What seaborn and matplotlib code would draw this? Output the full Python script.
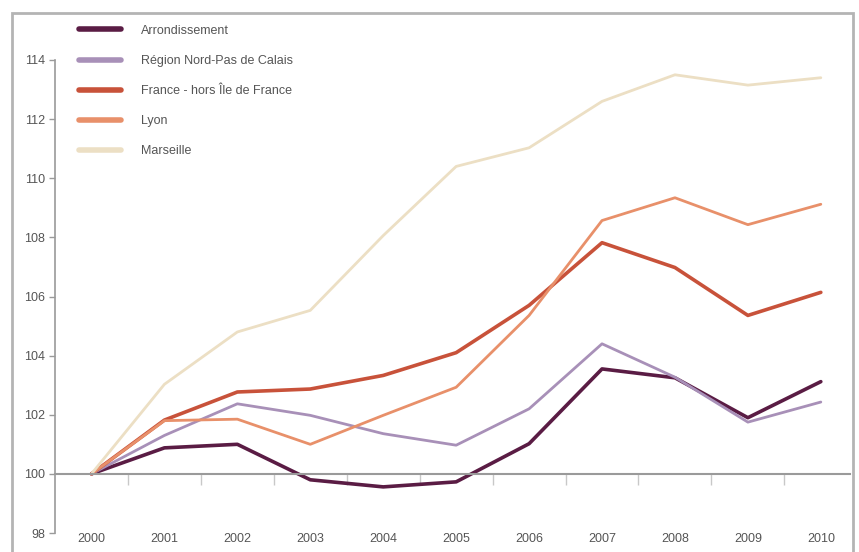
import matplotlib
matplotlib.use("Agg")
import matplotlib.pyplot as plt
from matplotlib.patches import Rectangle
from matplotlib.lines import Line2D
import numpy as np
import pandas as pd
import seaborn as sns

years = [2000, 2001, 2002, 2003, 2004, 2005, 2006, 2007, 2008, 2009, 2010]

arrondissement = [100.0, 100.88, 101.0, 99.8, 99.56, 99.73, 101.02, 103.55, 103.25, 101.9, 103.12]
region_npdc = [100.0, 101.3, 102.37, 101.98, 101.36, 100.97, 102.2, 104.4, 103.27, 101.75, 102.43]
france_hors_idf = [100.0, 101.82, 102.77, 102.87, 103.33, 104.1, 105.7, 107.82, 106.98, 105.36, 106.14]
lyon = [100.0, 101.8, 101.85, 101.0, 101.98, 102.93, 105.36, 108.57, 109.34, 108.43, 109.12]
marseille = [100.0, 103.03, 104.8, 105.53, 108.06, 110.4, 111.03, 112.6, 113.5, 113.15, 113.4]

series_names = [
    "Arrondissement",
    "Région Nord-Pas de Calais",
    "France - hors Île de France",
    "Lyon",
    "Marseille",
]
series_values = [arrondissement, region_npdc, france_hors_idf, lyon, marseille]
colors = ["#5a1c44", "#a890b8", "#c8523a", "#e8906a", "#ecdfc4"]
widths = [2.6, 2.0, 2.6, 2.0, 2.0]

y_ticks = [98, 100, 102, 104, 106, 108, 110, 112, 114]

df = pd.DataFrame(
    [(n, y, v) for n, vals in zip(series_names, series_values) for y, v in zip(years, vals)],
    columns=["series", "year", "value"],
)

sns.set_style("white")
plt.rcParams["font.family"] = ["Liberation Sans", "DejaVu Sans"]

W, H = 859, 552
fig = plt.figure(figsize=(W / 100, H / 100), dpi=100)
ax = fig.add_axes([55 / W, (H - 533) / H, (850 - 55) / W, (533 - 60) / H])

for name, col, lw in zip(series_names, colors, widths):
    sns.lineplot(
        data=df[df["series"] == name], x="year", y="value",
        color=col, linewidth=lw, ax=ax, legend=False,
    )

ax.set_xlim(1999.5, 2010.4)
ax.set_ylim(98, 114)
ax.set_xlabel("")
ax.set_ylabel("")

axis_grey = "#9a9a9a"
text_grey = "#555555"

# value axis
ax.set_yticks(y_ticks)
ax.set_yticklabels([str(t) for t in y_ticks], fontsize=9, color=text_grey)
ax.tick_params(axis="y", direction="out", length=4, width=1, color=axis_grey, pad=3, left=True)
ax.spines["left"].set_color(axis_grey)
ax.spines["left"].set_linewidth(1.2)
for s in ["top", "right"]:
    ax.spines[s].set_visible(False)

# category axis crossing at 100, with ticks between categories
ax.spines["bottom"].set_position(("data", 100))
ax.spines["bottom"].set_color(axis_grey)
ax.spines["bottom"].set_linewidth(1.5)
ax.set_xticks(years)
ax.set_xticks([y + 0.5 for y in years[:-1]], minor=True)
ax.tick_params(axis="x", which="major", length=0, labelbottom=False, bottom=False)
ax.tick_params(axis="x", which="minor", direction="out", length=8, width=1,
               color="#c8c8c8", bottom=True)

sec = ax.secondary_xaxis(0.0)
sec.set_xticks(years)
sec.set_xticklabels([str(y) for y in years], fontsize=9, color=text_grey)
sec.tick_params(length=0, pad=0)
sec.spines["bottom"].set_visible(False)

# legend
handles = [Line2D([0], [0], color=c, linewidth=4) for c in colors]
fig.legend(
    handles, series_names, loc="upper left",
    bbox_to_anchor=(70 / W, 1 - 16 / H), frameon=False,
    fontsize=9, labelcolor=text_grey, handlelength=3.4, handletextpad=1.6,
    labelspacing=1.45, borderpad=0.2,
)

# outer chart frame
fig.patches.append(Rectangle((12 / W, -0.05), (853 - 12) / W, 1 - 13 / H + 0.05,
                             transform=fig.transFigure, fill=False,
                             edgecolor="#b4b4b4", linewidth=2))

fig.savefig("out.png", dpi=100, facecolor="white")
